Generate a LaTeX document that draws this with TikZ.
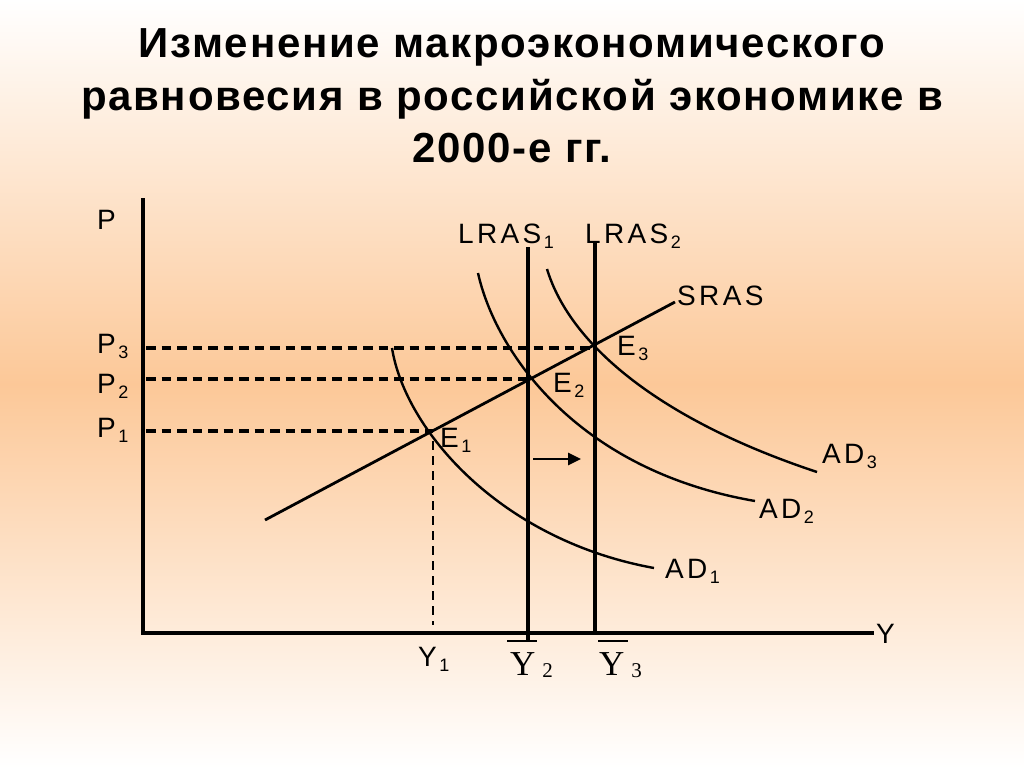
\documentclass[tikz,border=0pt]{standalone}
\usepackage{fontspec}
\usetikzlibrary{arrows.meta}
\setmainfont{Liberation Sans}
\newfontfamily\titlefont{Liberation Sans}[LetterSpace=4]
\newfontfamily\lblfont{Liberation Sans}[LetterSpace=12]
\newfontfamily\serfont{Liberation Serif}
\definecolor{peach}{RGB}{252,200,152}
\newcommand\lb[2]{{\fontsize{28}{28}\lblfont #1}\hspace{2.5pt}\raisebox{-5pt}{\fontsize{18}{18}\lblfont #2}}
\newcommand\yb[1]{{\fontsize{35}{35}\serfont Y}\hspace{7pt}\raisebox{-2pt}{\fontsize{21}{21}\serfont #1}}
\tikzset{
  ttl/.style={anchor=base, inner sep=0pt, font=\titlefont\bfseries\fontsize{42}{42}\selectfont},
  lbl/.style={anchor=base west, inner sep=0pt},
  axisline/.style={line width=3.4pt},
  lras/.style={line width=4.2pt},
  curve/.style={line width=2.4pt},
  dsh/.style={line width=3.5pt, dash pattern=on 9.5pt off 6pt},
}
\begin{document}
\begin{tikzpicture}[x=1pt,y=-1pt]
\useasboundingbox (0,0) rectangle (1024,768);
\shade[top color=white, bottom color=peach] (0,0) rectangle (1024,384);
\shade[top color=peach, bottom color=white] (0,384) rectangle (1024,768);

% title
\node[ttl] (t1) at (512,57) {Изменение макроэкономического};
\node[ttl] (t2) at (512,110) {равновесия в российской экономике в};
\node[ttl] (t3) at (512,162) {2000-е гг.};

% coordinates
\coordinate (O) at (143,633);
\coordinate (Ytop) at (143,198);
\coordinate (Xend) at (874,633);
\coordinate (E1) at (433,431);
\coordinate (E2) at (528,379);
\coordinate (E3) at (595,348);
\coordinate (p1) at (146,431);
\coordinate (p2) at (146,379);
\coordinate (p3) at (146,348);
\coordinate (y1b) at (433,625);
\coordinate (L1t) at (528,247);
\coordinate (L1b) at (528,641);
\coordinate (L2t) at (595,242);
\coordinate (L2b) at (595,633);
\coordinate (S0) at (265,520);
\coordinate (S1) at (675,302);
\coordinate (ar0) at (533,459);
\coordinate (ar1) at (581,459);
\coordinate (ob2a) at (507,641);
\coordinate (ob2b) at (537,641);
\coordinate (ob3a) at (598,641);
\coordinate (ob3b) at (628,641);
\coordinate (a1s) at (392,348);
\coordinate (a1e) at (654,568);
\coordinate (a2s) at (478,273);
\coordinate (a2e) at (755,501);
\coordinate (a3s) at (547,269);
\coordinate (a3e) at (817,472);

% dashed guides
\draw[dsh] (p3) -- (E3);
\draw[dsh] (p2) -- (E2);
\draw[dsh] (p1) -- (E1);
\draw[dsh, line width=2.6pt, dash pattern=on 9pt off 6pt] (E1) ++(0,10) -- (y1b);

% axes
\draw[axisline] (Ytop) -- (O) -- (Xend);

% LRAS
\draw[lras] (L1t) -- (L1b);
\draw[lras] (L2t) -- (L2b);
\draw[line width=2pt] (ob2a) -- (ob2b);
\draw[line width=2pt] (ob3a) -- (ob3b);

% SRAS
\draw[line width=2.8pt] (S0) -- (S1);

% AD curves
\draw[curve] (a1s) .. controls (405,430) and (500,540) .. (a1e);
\draw[curve] (a2s) .. controls (495,350) and (575,470) .. (a2e);
\draw[curve] (a3s) .. controls (570,345) and (660,420) .. (a3e);

% shift arrow
\draw[line width=2.8pt, -{Triangle[length=13pt,width=12pt]}] (ar0) -- (ar1);

% labels
\node[lbl] (lP) at (97,229) {\fontsize{28}{28}\lblfont P};
\node[lbl] (lP3) at (97,353) {\lb{P}{3}};
\node[lbl] (lP2) at (97,393) {\lb{P}{2}};
\node[lbl] (lP1) at (97,437) {\lb{P}{1}};
\node[lbl] (lL1) at (458,243) {\lb{LRAS}{1}};
\node[lbl] (lL2) at (585,243) {\lb{LRAS}{2}};
\node[lbl] (lS) at (677,305) {\fontsize{28}{28}\lblfont SRAS};
\node[lbl] (lE3) at (617,355) {\lb{E}{3}};
\node[lbl] (lE2) at (553,392) {\lb{E}{2}};
\node[lbl] (lE1) at (440,447) {\lb{E}{1}};
\node[lbl] (lAD3) at (822,463) {\lb{AD}{3}};
\node[lbl] (lAD2) at (759,518) {\lb{AD}{2}};
\node[lbl] (lAD1) at (665,578) {\lb{AD}{1}};
\node[lbl] (lY) at (876,643) {\fontsize{28}{28}\lblfont Y};
\node[lbl] (lY1) at (418,666) {\lb{Y}{1}};
\node[lbl] (lY2) at (510,675) {\yb{2}};
\node[lbl] (lY3) at (599,675) {\yb{3}};
\end{tikzpicture}
\end{document}
